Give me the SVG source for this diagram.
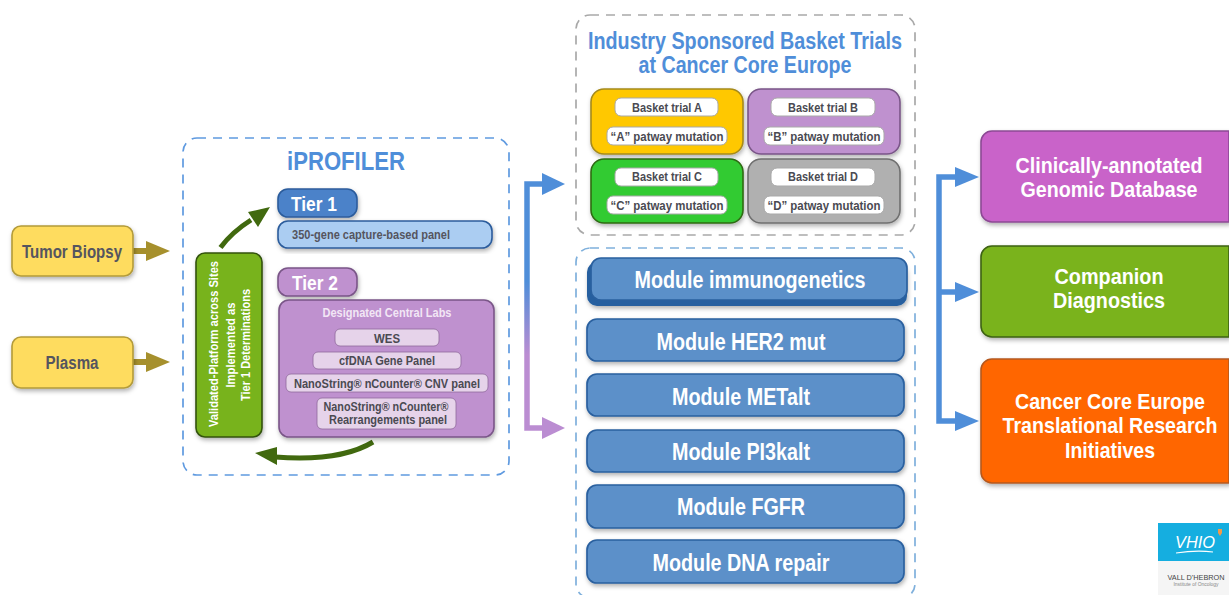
<svg xmlns="http://www.w3.org/2000/svg" width="1229" height="595" viewBox="0 0 1229 595">
<style>
text{font-family:"Liberation Sans",Arial,sans-serif;font-weight:700;text-anchor:middle}
.b{stroke-width:1.600;filter:url(#sh)}
.dash{fill:none;stroke-width:1.700;stroke-dasharray:9 7}
.w{fill:#fff}
.g{fill:#55555f}
.mod{fill:#5b90c9;stroke:#2a609f;stroke-width:1.700;filter:url(#sh)}
.modt{fill:#fff;font-size:23.500px}
.bt{fill:#4a4a52;font-size:13px}
.pill{fill:#fff;stroke:#a9a9a9;stroke-width:1}
.lab{fill:#e6d3ea;stroke:#8f6a9c;stroke-width:.8}
.labt{fill:#4a4a52;font-size:13px}
.labs{fill:#4a4a52;font-size:12px}
.rt{fill:#fff;font-size:21.500px}
.head{fill:#4f8ed9}
</style>
<defs>
<filter id="sh" x="-10%" y="-15%" width="120%" height="135%"><feDropShadow dx="1" dy="2.500" stdDeviation="2" flood-color="#000" flood-opacity=".3"/></filter>
<linearGradient id="elbow" gradientUnits="userSpaceOnUse" x1="0" y1="184" x2="0" y2="428"><stop offset=".4" stop-color="#4f8ed9"/><stop offset=".7" stop-color="#bb8dd2"/></linearGradient>
</defs>
<rect width="1229" height="595" fill="#fff"/>

<g id="containers">
<rect id="iprofiler-frame" class="dash" x="183" y="138" width="326" height="337" rx="14" stroke="#5f9ae0"/>
<rect id="basket-frame" class="dash" x="576" y="15" width="339" height="220" rx="14" stroke="#a9a9a9"/>
<rect id="module-frame" class="dash" x="576" y="248" width="339" height="350" rx="14" stroke="#7fb0dc"/>
</g>

<g id="connectors">
<path d="M133 251H148" stroke="#a6902d" stroke-width="6" fill="none"/>
<polygon points="146,241 146,261 170,251" fill="#a6902d"/>
<path d="M133 362H148" stroke="#a6902d" stroke-width="6" fill="none"/>
<polygon points="146,352 146,372 170,362" fill="#a6902d"/>
<path d="M220.500 247.500Q232 232 251 220" stroke="#41690f" stroke-width="5" fill="none"/>
<polygon points="270,207 248,212 258,227" fill="#41690f"/>
<path d="M373 442Q340 462 275 457" stroke="#41690f" stroke-width="5" fill="none"/>
<polygon points="255,453 277,447 277,465" fill="#41690f"/>
<path d="M545 184H527V428H545" stroke="url(#elbow)" stroke-width="5.500" fill="none"/>
<polygon points="542,173 542,195 565,184" fill="#4f8ed9"/>
<polygon points="542,417 542,439 565,428" fill="#bb8dd2"/>
<path d="M957 177H939V421H957M939 292H957" stroke="#4f8ed9" stroke-width="5.500" fill="none"/>
<polygon class="head" points="955,167 955,187 979,177"/>
<polygon class="head" points="955,282 955,302 979,292"/>
<polygon class="head" points="955,411 955,431 979,421"/>
</g>

<g id="tumor-biopsy"><rect class="b" x="12" y="226" width="121" height="50" rx="9" fill="#fedc5e" stroke="#b39b3a"/><text class="g" x="72" y="258" font-size="18" textLength="100" lengthAdjust="spacingAndGlyphs">Tumor Biopsy</text></g>
<g id="plasma"><rect class="b" x="12" y="337" width="121" height="51" rx="9" fill="#fedc5e" stroke="#b39b3a"/><text class="g" x="72" y="369" font-size="18" textLength="53" lengthAdjust="spacingAndGlyphs">Plasma</text></g>

<g id="iprofiler-title"><text x="346" y="170" font-size="25" fill="#4f8ed9" textLength="118" lengthAdjust="spacingAndGlyphs">iPROFILER</text></g>

<g id="validated-platform"><rect class="b" x="196" y="253" width="66" height="184" rx="9" fill="#78b31c" stroke="#33530d"/>
<text class="w" transform="translate(218 344) rotate(-90)" font-size="13.500" textLength="166" lengthAdjust="spacingAndGlyphs">Validated-Platform across Sites</text>
<text class="w" transform="translate(235 345) rotate(-90)" font-size="13.500" textLength="85" lengthAdjust="spacingAndGlyphs">Implemented as</text>
<text class="w" transform="translate(250 345) rotate(-90)" font-size="13.500" textLength="112" lengthAdjust="spacingAndGlyphs">Tier 1 Determinations</text>
</g>

<g id="tier-1"><rect class="b" x="278" y="189" width="79" height="28" rx="10" fill="#4c82c9" stroke="#2c5c9c"/><text class="w" x="314" y="211" font-size="21" textLength="46" lengthAdjust="spacingAndGlyphs">Tier 1</text></g>
<g id="tier-1-panel"><rect class="b" x="278" y="221" width="214" height="27" rx="10" fill="#abcdf2" stroke="#2c5c9c"/><text class="g" x="371" y="239" font-size="13.500" textLength="158" lengthAdjust="spacingAndGlyphs">350-gene capture-based panel</text></g>
<g id="tier-2"><rect class="b" x="278" y="268" width="79" height="28" rx="10" fill="#bf91cf" stroke="#7a5688"/><text class="w" x="315" y="290" font-size="21" textLength="46" lengthAdjust="spacingAndGlyphs">Tier 2</text></g>
<g id="tier-2-labs"><rect class="b" x="279" y="300" width="215" height="137" rx="10" fill="#bf91cf" stroke="#7a5688"/>
<text x="387" y="317" font-size="13" fill="#f2e6f5" textLength="129" lengthAdjust="spacingAndGlyphs">Designated Central Labs</text>
<rect class="lab" x="335" y="329" width="104" height="17" rx="5"/><text class="labt" x="387" y="343" textLength="26" lengthAdjust="spacingAndGlyphs">WES</text>
<rect class="lab" x="313" y="352" width="148" height="17" rx="5"/><text class="labt" x="387" y="365" textLength="96" lengthAdjust="spacingAndGlyphs">cfDNA Gene Panel</text>
<rect class="lab" x="286" y="374" width="202" height="18" rx="5"/><text class="labt" x="387" y="388" textLength="186" lengthAdjust="spacingAndGlyphs">NanoString® nCounter® CNV panel</text>
<rect class="lab" x="317" y="398" width="139" height="31" rx="5"/><text class="labs" x="386" y="411" textLength="125" lengthAdjust="spacingAndGlyphs">NanoString® nCounter®</text><text class="labs" x="388" y="424" textLength="118" lengthAdjust="spacingAndGlyphs">Rearrangements panel</text>
</g>

<g id="basket-title"><text x="745" y="49" font-size="23" fill="#4f8ed9" textLength="314" lengthAdjust="spacingAndGlyphs">Industry Sponsored Basket Trials</text><text x="745" y="73" font-size="23" fill="#4f8ed9" textLength="213" lengthAdjust="spacingAndGlyphs">at Cancer Core Europe</text></g>

<g id="basket-a"><rect class="b" x="591" y="89" width="152" height="65" rx="13" fill="#ffc800" stroke="#a58a1c"/>
<rect class="pill" x="615" y="98" width="103" height="18" rx="6"/><text class="bt" x="667" y="112" textLength="70" lengthAdjust="spacingAndGlyphs">Basket trial A</text>
<rect class="pill" x="607" y="127" width="120" height="18" rx="6"/><text class="bt" x="667" y="141" textLength="113" lengthAdjust="spacingAndGlyphs">“A” patway mutation</text></g>
<g id="basket-b"><rect class="b" x="748" y="89" width="152" height="65" rx="13" fill="#bf91cf" stroke="#7a5688"/>
<rect class="pill" x="771" y="98" width="104" height="18" rx="6"/><text class="bt" x="823" y="112" textLength="70" lengthAdjust="spacingAndGlyphs">Basket trial B</text>
<rect class="pill" x="764" y="127" width="120" height="18" rx="6"/><text class="bt" x="824" y="141" textLength="113" lengthAdjust="spacingAndGlyphs">“B” patway mutation</text></g>
<g id="basket-c"><rect class="b" x="591" y="159" width="152" height="64" rx="13" fill="#32cb32" stroke="#2e6b12"/>
<rect class="pill" x="615" y="168" width="103" height="18" rx="6"/><text class="bt" x="667" y="181" textLength="70" lengthAdjust="spacingAndGlyphs">Basket trial C</text>
<rect class="pill" x="607" y="196" width="120" height="18" rx="6"/><text class="bt" x="667" y="210" textLength="113" lengthAdjust="spacingAndGlyphs">“C” patway mutation</text></g>
<g id="basket-d"><rect class="b" x="748" y="159" width="152" height="64" rx="13" fill="#b0b0b0" stroke="#6f6f6f"/>
<rect class="pill" x="771" y="168" width="104" height="18" rx="6"/><text class="bt" x="823" y="181" textLength="70" lengthAdjust="spacingAndGlyphs">Basket trial D</text>
<rect class="pill" x="764" y="196" width="120" height="18" rx="6"/><text class="bt" x="824" y="210" textLength="113" lengthAdjust="spacingAndGlyphs">“D” patway mutation</text></g>

<g id="module-immunogenetics"><rect x="587" y="262" width="320" height="44" rx="10" fill="#255f9f" filter="url(#sh)"/><rect x="591" y="258" width="316" height="42" rx="10" fill="#5b90c9" stroke="#2a609f" stroke-width="1.700"/><text class="modt" x="750" y="288" textLength="231" lengthAdjust="spacingAndGlyphs">Module immunogenetics</text></g>
<g id="module-her2"><rect class="mod" x="587" y="319" width="317" height="42" rx="10"/><text class="modt" x="741" y="350" textLength="169" lengthAdjust="spacingAndGlyphs">Module HER2 mut</text></g>
<g id="module-met"><rect class="mod" x="587" y="374" width="317" height="42" rx="10"/><text class="modt" x="741" y="405" textLength="138" lengthAdjust="spacingAndGlyphs">Module METalt</text></g>
<g id="module-pi3k"><rect class="mod" x="587" y="430" width="317" height="42" rx="10"/><text class="modt" x="741" y="460" textLength="138" lengthAdjust="spacingAndGlyphs">Module PI3kalt</text></g>
<g id="module-fgfr"><rect class="mod" x="587" y="485" width="317" height="43" rx="10"/><text class="modt" x="741" y="515" textLength="128" lengthAdjust="spacingAndGlyphs">Module FGFR</text></g>
<g id="module-dna"><rect class="mod" x="587" y="540" width="317" height="43" rx="10"/><text class="modt" x="741" y="571" textLength="177" lengthAdjust="spacingAndGlyphs">Module DNA repair</text></g>

<g id="genomic-database"><path class="b" d="M1229 131H992a11 11 0 0 0-11 11v69a11 11 0 0 0 11 11H1229z" fill="#c963c9" stroke="#8c4a94"/><text class="rt" x="1109" y="173" textLength="187" lengthAdjust="spacingAndGlyphs">Clinically-annotated</text><text class="rt" x="1109" y="197" textLength="177" lengthAdjust="spacingAndGlyphs">Genomic Database</text></g>
<g id="companion-diagnostics"><path class="b" d="M1229 246H992a11 11 0 0 0-11 11v69a11 11 0 0 0 11 11H1229z" fill="#7ab31c" stroke="#3e6212"/><text class="rt" x="1109" y="284" textLength="109" lengthAdjust="spacingAndGlyphs">Companion</text><text class="rt" x="1109" y="308" textLength="112" lengthAdjust="spacingAndGlyphs">Diagnostics</text></g>
<g id="translational-research"><path class="b" d="M1229 359H992a11 11 0 0 0-11 11v102a11 11 0 0 0 11 11H1229z" fill="#ff6600" stroke="#b5591f"/><text class="rt" x="1110" y="409" textLength="190" lengthAdjust="spacingAndGlyphs">Cancer Core Europe</text><text class="rt" x="1110" y="433" textLength="215" lengthAdjust="spacingAndGlyphs">Translational Research</text><text class="rt" x="1110" y="458" textLength="90" lengthAdjust="spacingAndGlyphs">Initiatives</text></g>

<g id="logo">
<rect x="1158" y="523" width="71" height="72" fill="#f5f5f5"/>
<rect x="1158" y="523" width="71" height="38" fill="#15aee0"/>
<text class="w" x="1195" y="548" font-size="17" style="font-style:italic;font-weight:400" textLength="40" lengthAdjust="spacingAndGlyphs">VHIO</text>
<path d="M1176 553Q1196 550 1213 552" stroke="#fff" stroke-width="1.200" fill="none"/>
<path d="M1218 529h4v4l-2 3l-2-3z" fill="#f2994a"/>
<text x="1196" y="580" font-size="7" fill="#444" style="font-weight:400" textLength="57" lengthAdjust="spacingAndGlyphs">VALL D'HEBRON</text>
<text x="1196" y="586" font-size="4.500" style="font-weight:400" fill="#888" textLength="45" lengthAdjust="spacingAndGlyphs">Institute of Oncology</text>
</g>
</svg>
